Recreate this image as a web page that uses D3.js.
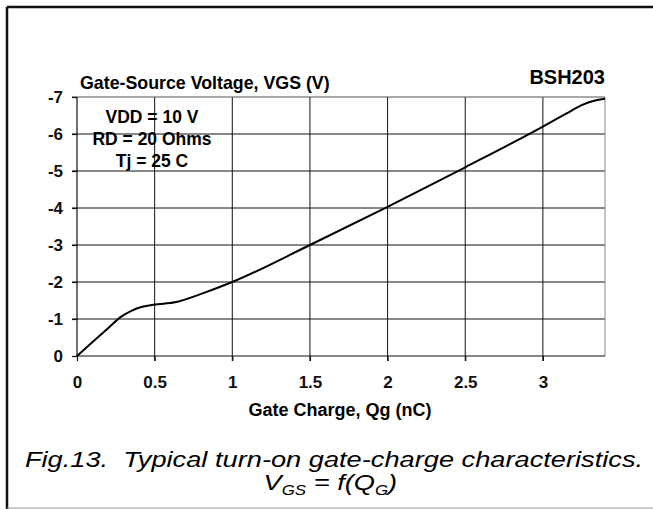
<!DOCTYPE html>
<html>
<head>
<meta charset="utf-8">
<script src="https://cdn.jsdelivr.net/npm/d3@7"></script>
<style>
  body { margin: 0; background: #fff; }
  svg { display: block; font-family: "Liberation Sans", Arial, sans-serif; }
</style>
</head>
<body>
<svg width="653" height="509"></svg>
<script>
// curve
const qg = [0, 0.1, 0.2, 0.28, 0.35, 0.42, 0.5, 0.63, 0.8, 1.0, 1.5, 2.0, 2.5, 3.0, 3.15, 3.25, 3.33, 3.4];
const vgs = [0, -0.38, -0.75, -1.05, -1.22, -1.33, -1.39, -1.45, -1.68, -2.0, -3.0, -4.03, -5.1, -6.2, -6.55, -6.78, -6.9, -6.95];
const xTicks = [0, 0.5, 1, 1.5, 2, 2.5, 3];
const yTicks = [0, -1, -2, -3, -4, -5, -6, -7];
const notes = ["VDD = 10 V", "RD = 20 Ohms", "Tj = 25 C"];

const LEFT = 77, RIGHT = 605, TOP = 97, BOTTOM = 356;
const svg = d3.select("svg");

// outer frame
svg.append("line").attr("x1", 7).attr("y1", 7).attr("x2", 653).attr("y2", 7)
  .attr("stroke", "#111").attr("stroke-width", 2.5);
svg.append("line").attr("x1", 7).attr("y1", 7).attr("x2", 7).attr("y2", 509)
  .attr("stroke", "#111").attr("stroke-width", 2.5);
svg.append("line").attr("x1", 7).attr("y1", 508).attr("x2", 653).attr("y2", 508)
  .attr("stroke", "#999").attr("stroke-width", 1);

var x = d3.scaleLinear().domain([0, 3.4]).range([LEFT, RIGHT]);
var y = d3.scaleLinear().domain([0, -7]).range([BOTTOM, TOP]);

// grid
svg.append("g").selectAll("line").data(xTicks.slice(1)).enter().append("line")
  .attr("x1", d => x(d)).attr("x2", d => x(d))
  .attr("y1", TOP).attr("y2", BOTTOM + 5)
  .attr("stroke", "#111").attr("stroke-width", 1);
svg.append("g").selectAll("line").data(yTicks.slice(1)).enter().append("line")
  .attr("x1", LEFT - 5).attr("x2", RIGHT)
  .attr("y1", d => y(d)).attr("y2", d => y(d))
  .attr("stroke", d => d === -7 ? "#555" : "#111").attr("stroke-width", 1);
svg.append("line").attr("x1", RIGHT).attr("x2", RIGHT).attr("y1", TOP).attr("y2", BOTTOM)
  .attr("stroke", "#888").attr("stroke-width", 1);

// axes
var xAxis = d3.axisBottom(x).tickValues(xTicks).tickSize(5).tickPadding(15)
  .tickFormat(d => String(d));
svg.append("g").attr("transform", "translate(0," + BOTTOM + ")").call(xAxis)
  .call(g => g.select(".domain").attr("d", "M" + LEFT + ",0H" + RIGHT));
var yAxis = d3.axisLeft(y).tickValues(yTicks).tickSize(5).tickPadding(9)
  .tickFormat(d => String(d));
svg.append("g").attr("transform", "translate(" + LEFT + ",0)").call(yAxis)
  .call(g => g.select(".domain").attr("d", "M0," + BOTTOM + "V" + TOP));
svg.selectAll(".tick text").attr("font-size", 17).attr("font-weight", "bold")
  .attr("font-family", "Liberation Sans, Arial, sans-serif").attr("fill", "#111");
svg.selectAll(".domain, .tick line").attr("stroke", "#111").attr("stroke-width", 1.2);

// curve
var line = d3.line().x((d, i) => x(qg[i])).y((d, i) => y(vgs[i])).curve(d3.curveMonotoneX);
svg.append("path").datum(vgs).attr("d", line)
  .attr("fill", "none").attr("stroke", "#000").attr("stroke-width", 2);

// labels
svg.append("text").attr("x", 80).attr("y", 89).text("Gate-Source Voltage, VGS (V)")
  .attr("font-size", 17.8).attr("font-weight", "bold");
svg.append("text").attr("x", 605).attr("y", 84).attr("text-anchor", "end").text("BSH203")
  .attr("font-size", 20).attr("font-weight", "bold");
svg.append("text").attr("x", 340).attr("y", 416).attr("text-anchor", "middle")
  .text("Gate Charge, Qg (nC)").attr("font-size", 18).attr("font-weight", "bold");
svg.append("g").selectAll("text").data(notes).enter().append("text")
  .attr("x", 152).attr("y", (d, i) => 123 + i * 22).attr("text-anchor", "middle")
  .text(d => d).attr("font-size", 17.5).attr("font-weight", "bold");

// caption (stretched horizontally like the original)
var capG = svg.append("g").attr("transform", "translate(334,0) scale(1.21,1)");
capG.append("text").attr("x", 0).attr("y", 467).attr("text-anchor", "middle")
  .attr("font-size", 22.5).attr("font-style", "italic")
  .attr("xml:space", "preserve")
  .text("Fig.13.  Typical turn-on gate-charge characteristics.");
var cap = capG.append("text").attr("x", -3).attr("y", 490).attr("text-anchor", "middle")
  .attr("font-size", 22.5).attr("font-style", "italic");
cap.append("tspan").text("V");
cap.append("tspan").text("GS").attr("font-size", 14).attr("dy", 5);
cap.append("tspan").text(" = f(Q").attr("dy", -5);
cap.append("tspan").text("G").attr("font-size", 14).attr("dy", 5);
cap.append("tspan").text(")").attr("dy", -5);
</script>
</body>
</html>
